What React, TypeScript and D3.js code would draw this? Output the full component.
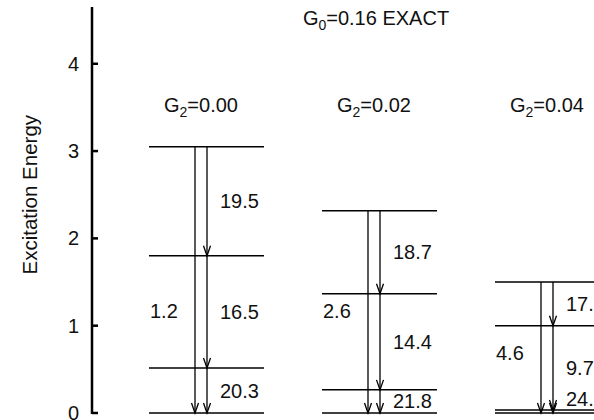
import React from "react";
import * as d3 from "d3";

// coupling strengths, one column each
const groups = ["0.00", "0.02", "0.04"];
// excitation energies of the levels in each column (top to ground)
const levels = [
  [3.05, 1.8, 0.515, 0],
  [2.315, 1.365, 0.265, 0],
  [1.5, 1.0, 0.035, 0],
];
// cascade rates on the right arrow, one per step
const rates = [
  ["19.5", "16.5", "20.3"],
  ["18.7", "14.4", "21.8"],
  ["17.6", "9.7", "24.2"],
];
// direct rate top -> ground, and the energy where its label sits
const direct = ["1.2", "2.6", "4.6"];
const directAt = [1.17, 1.17, 0.69];
const yTicks = [0, 1, 2, 3, 4];

const W = 594;
const H = 420;
const font = "'Liberation Sans', Arial, Helvetica, sans-serif";
const ink = "#111";

export default function App() {
  const y = d3.scaleLinear().domain([0, 4.65]).range([413, 7]);
  const x = d3.scaleLinear().domain([0, 1]).range([149, 322]);
  const axisX = 92;
  const lineW = 115;

  const arrowHead = (ax: number, ay: number) =>
    `M${ax - 3.5},${ay - 10}L${ax},${ay}L${ax + 3.5},${ay - 10}`;

  return (
    <svg
      width={W}
      height={H}
      style={{ position: "absolute", left: 0, top: 0 }}
      fontFamily={font}
    >
      <rect width={W} height={H} fill="white" />

      {/* title */}
      <text x={376} y={25} fontSize={20} textAnchor="middle" fill={ink}>
        G<tspan fontSize={14} dy={5}>0</tspan>
        <tspan dy={-5}>=0.16 EXACT</tspan>
      </text>

      {/* y axis */}
      <line x1={axisX} x2={axisX} y1={y(4.65)} y2={y(0) + 1} stroke="black" strokeWidth={2.5} />
      {yTicks.map((t) => (
        <g key={t}>
          <line x1={axisX} x2={axisX + 6} y1={y(t)} y2={y(t)} stroke="black" strokeWidth={2.5} />
          <text x={79} y={y(t) + 7} fontSize={20} textAnchor="end" fill={ink}>
            {t}
          </text>
        </g>
      ))}
      <text
        transform={`translate(37,${y(2.5)}) rotate(-90)`}
        fontSize={20.5}
        textAnchor="middle"
        fill={ink}
      >
        Excitation Energy
      </text>

      {groups.map((g, i) => {
        const x0 = x(i);
        const aL = x0 + 46;
        const aR = x0 + 58;
        const lv = levels[i];
        const top = y(lv[0]);
        const bottom = y(lv[lv.length - 1]);
        return (
          <g key={g}>
            <text x={(aL + aR) / 2} y={112} fontSize={20} textAnchor="middle" fill={ink}>
              G<tspan fontSize={14} dy={5}>2</tspan>
              <tspan dy={-5}>={g}</tspan>
            </text>
            {lv.map((e, j) => (
              <line
                key={j}
                x1={x0}
                x2={x0 + lineW}
                y1={y(e)}
                y2={y(e)}
                stroke="black"
                strokeWidth={1.5}
              />
            ))}
            {/* direct transition */}
            <line x1={aL} x2={aL} y1={top} y2={bottom} stroke="black" strokeWidth={1.3} />
            <path d={arrowHead(aL, bottom)} fill="none" stroke="black" strokeWidth={1.3} />
            <text x={x0 + 1} y={y(directAt[i]) + 7} fontSize={20} fill={ink}>
              {direct[i]}
            </text>
            {/* cascade */}
            <line x1={aR} x2={aR} y1={top} y2={bottom} stroke="black" strokeWidth={1.3} />
            {lv.slice(1).map((e, j) => {
              const up = y(lv[j]);
              const lo = y(e);
              const cy = lo - up < 20 ? lo - 14 : (up + lo) / 2;
              return (
                <g key={j}>
                  <path d={arrowHead(aR, lo)} fill="none" stroke="black" strokeWidth={1.3} />
                  <text x={aR + 13} y={cy + 7} fontSize={20} fill={ink}>
                    {rates[i][j]}
                  </text>
                </g>
              );
            })}
          </g>
        );
      })}
    </svg>
  );
}
